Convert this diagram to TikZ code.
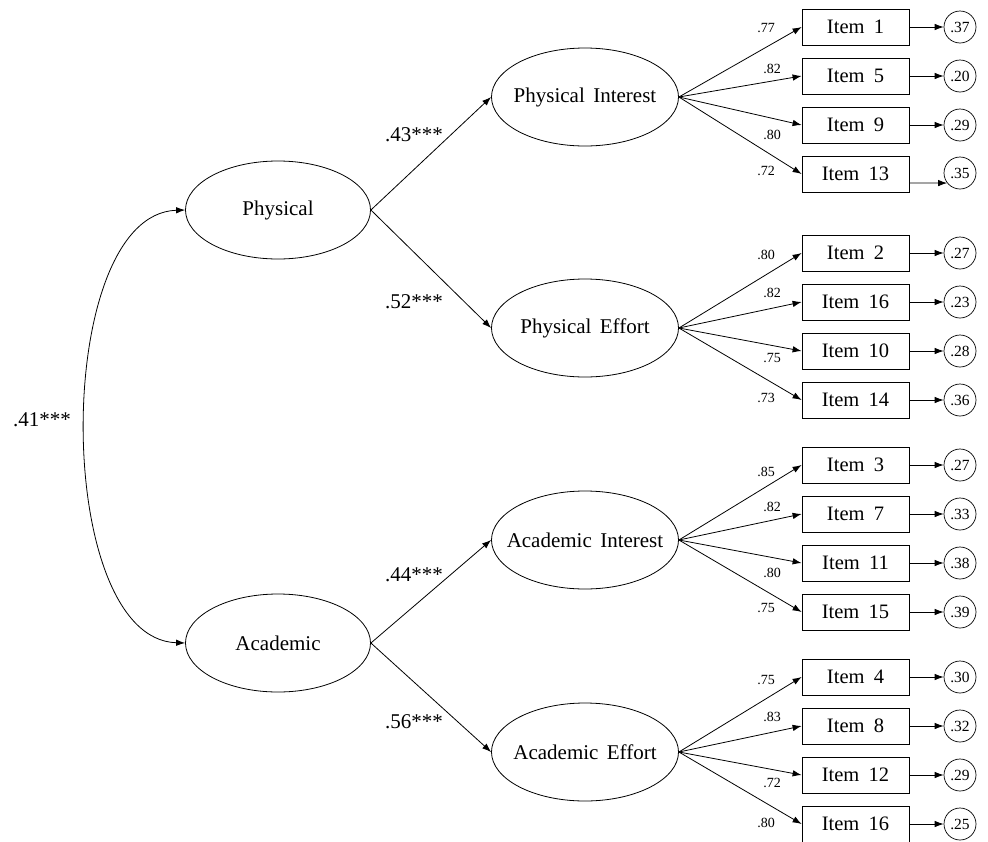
\documentclass[tikz,border=0pt]{standalone}
\usepackage{fontspec}
\setmainfont{Liberation Serif}
\usetikzlibrary{shapes.geometric,arrows.meta,calc}
\begin{document}
\begin{tikzpicture}[x=1pt,y=-1pt,
  lat/.style={ellipse,draw,line width=0.8pt,minimum width=185pt,minimum height=98pt,inner sep=0pt,font=\fontsize{21}{25}\selectfont},
  item/.style={rectangle,draw,line width=0.8pt,minimum width=107pt,minimum height=36pt,inner sep=0pt,font=\fontsize{20.5}{24}\selectfont},
  err/.style={circle,draw,line width=0.7pt,minimum size=32pt,inner sep=0pt,font=\fontsize{15.5}{18}\selectfont},
  arr/.style={-{Latex[length=9pt,width=6.5pt]},line width=0.8pt},
  ld/.style={font=\fontsize{14}{16}\selectfont,inner sep=0pt},
  big/.style={font=\fontsize{21}{25}\selectfont,inner sep=0pt}]
\useasboundingbox (0,0) rectangle (988,841);

% latent factors
\node[lat] (phys) at (278,210) {\makebox[0pt]{Physical}};
\node[lat] (acad) at (278,643) {\makebox[0pt]{Academic}};
\node[lat,minimum width=187pt] (pi) at (585,97) {\makebox[0pt]{Physical\hspace{0.4em}Interest}};
\node[lat,minimum width=187pt] (pe) at (585,328) {\makebox[0pt]{Physical\hspace{0.4em}Effort}};
\node[lat,minimum width=187pt] (ai) at (585,540) {\makebox[0pt]{Academic\hspace{0.4em}Interest}};
\node[lat,minimum width=187pt] (ae) at (585,752) {\makebox[0pt]{Academic\hspace{0.4em}Effort}};

% correlation
\draw[{Latex[length=9pt,width=6.5pt]}-{Latex[length=9pt,width=6.5pt]},line width=0.8pt]
  (phys.west) .. controls (52,214) and (52,639) .. (acad.west);
\node[big] (r) at (42,420) {.41***};

% structural paths
\draw[arr] (phys.east) -- (pi.west);
\draw[arr] (phys.east) -- (pe.west);
\draw[arr] (acad.east) -- (ai.west);
\draw[arr] (acad.east) -- (ae.west);
\node[big] (l1) at (414,135) {.43***};
\node[big] (l2) at (414,302) {.52***};
\node[big] (l3) at (414,575) {.44***};
\node[big] (l4) at (414,722) {.56***};

% items and errors
\foreach \nm/\y/\lab/\e in {i1/27/1/.37, i5/76/5/.20, i9/125/9/.29,
   i2/253/2/.27, i16a/302/16/.23, i10/351/10/.28, i14/400/14/.36,
   i3/465/3/.27, i7/514/7/.33, i11/563/11/.38, i15/612/15/.39,
   i4/677/4/.30, i8/726/8/.32, i12/775/12/.29, i16b/824/16/.25}{
  \node[item] (\nm) at (855.5,\y) {Item\hspace{0.45em}\lab};
  \node[err] (e\nm) at (960,\y) {\e};
  \draw[arr] (\nm.east) -- (e\nm.west);
}
\node[item] (i13) at (855.5,174) {Item\hspace{0.45em}13};
\node[err] (ei13) at (960,173) {.35};
\draw[arr] ($(i13.east)+(0,9)$) -- (ei13.218);

% loadings
\draw[arr] (pi.east) -- (i1.west);
\draw[arr] (pi.east) -- (i5.west);
\draw[arr] (pi.east) -- (i9.west);
\draw[arr] (pi.east) -- (i13.west);
\draw[arr] (pe.east) -- (i2.west);
\draw[arr] (pe.east) -- (i16a.west);
\draw[arr] (pe.east) -- (i10.west);
\draw[arr] (pe.east) -- (i14.west);
\draw[arr] (ai.east) -- (i3.west);
\draw[arr] (ai.east) -- (i7.west);
\draw[arr] (ai.east) -- (i11.west);
\draw[arr] (ai.east) -- (i15.west);
\draw[arr] (ae.east) -- (i4.west);
\draw[arr] (ae.east) -- (i8.west);
\draw[arr] (ae.east) -- (i12.west);
\draw[arr] (ae.east) -- (i16b.west);

\node[ld] (a1) at (766,28) {.77};
\node[ld] (a2) at (772,69) {.82};
\node[ld] (a3) at (772,135) {.80};
\node[ld] (a4) at (766,171) {.72};
\node[ld] (b1) at (766,255) {.80};
\node[ld] (b2) at (772,293) {.82};
\node[ld] (b3) at (772,358) {.75};
\node[ld] (b4) at (766,398) {.73};
\node[ld] (c1) at (766,472) {.85};
\node[ld] (c2) at (772,507) {.82};
\node[ld] (c3) at (772,573) {.80};
\node[ld] (c4) at (766,608) {.75};
\node[ld] (d1) at (766,680) {.75};
\node[ld] (d2) at (772,717) {.83};
\node[ld] (d3) at (772,783) {.72};
\node[ld] (d4) at (766,823) {.80};
\end{tikzpicture}
\end{document}
